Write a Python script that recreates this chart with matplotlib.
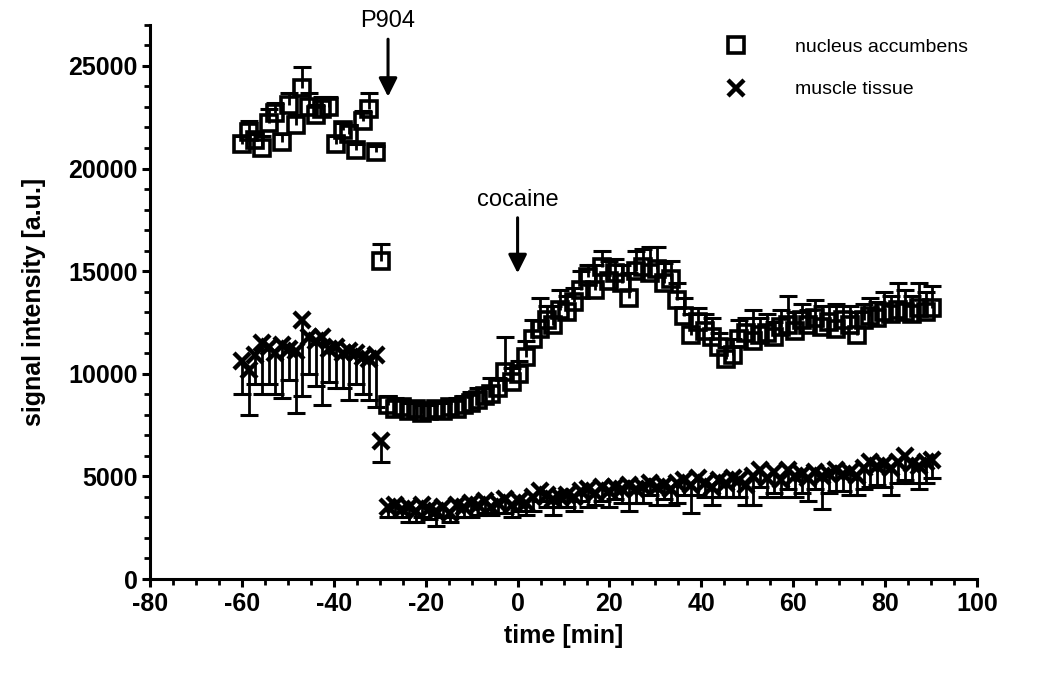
import numpy as np
import matplotlib
matplotlib.use("Agg")
import matplotlib.pyplot as plt
from matplotlib.ticker import MultipleLocator
from matplotlib.lines import Line2D

plt.rcParams['font.family'] = ['Liberation Sans', 'DejaVu Sans']
plt.rcParams['axes.unicode_minus'] = False

# ---------------- data ----------------
# baseline period (before P904), injection point, and period after P904
time_pre = np.linspace(-60, -30.8, 21)
time_inj = [-29.7]
time_post = np.arange(-28.2, 90.5, 1.5)

na_pre = [21200, 21800, 21400, 21000, 22200, 22700, 21300, 23100, 22100, 23900,
          23000, 22600, 22900, 23000, 21200, 21900, 21700, 20900, 22300, 22900, 20800]
na_pre_err = [400, 500, 300, 600, 700, 500, 400, 600, 500, 1050,
              700, 500, 600, 500, 400, 300, 400, 300, 500, 800, 300]
na_inj = [15500]
na_inj_err = [800]
na_post = [8500, 8300, 8400, 8200, 8300, 8100, 8200, 8300, 8200, 8400,
           8300, 8500, 8600, 8700, 8900, 9000, 9300, 10100, 9600, 10000,
           10800, 11700, 12200, 12600, 12400, 13100, 13000, 13500, 14100, 14700,
           14100, 15200, 14500, 14900, 14400, 13700, 15000, 15200, 14900, 15100,
           14400, 14600, 13600, 12800, 11900, 12500, 12100, 11800, 11300, 10700,
           10900, 11700, 12000, 11600, 11900, 12000, 11800, 12300, 12400, 12100,
           12600, 12400, 12700, 12300, 12500, 12200, 12600, 12400, 11900, 12600,
           12800, 12700, 13000, 12900, 13100, 13000, 12900, 13200, 13000, 13200]
na_post_err = [400, 500, 300, 400, 300, 400, 300, 300, 400, 300,
               500, 400, 500, 600, 400, 800, 500, 1700, 700, 600,
               800, 900, 1500, 700, 900, 1000, 800, 700, 900, 600,
               1200, 800, 1000, 700, 900, 1200, 1000, 900, 1300, 1100,
               1000, 900, 800, 900, 1000, 700, 800, 900, 700, 600,
               800, 900, 700, 1500, 800, 900, 700, 800, 1400, 900,
               800, 700, 900, 1000, 800, 1200, 700, 900, 1100, 800,
               900, 800, 1000, 900, 1300, 1100, 900, 1200, 1000, 1100]

mt_pre = [10600, 10200, 10900, 11500, 11300, 11000, 11400, 11200, 11100, 12600,
          11800, 11600, 11800, 11200, 11300, 11000, 11100, 11000, 10800, 10700, 10900]
mt_pre_err = [1600, 2200, 1400, 2500, 1800, 2000, 2600, 1500, 3000, 3700,
              1800, 2200, 3300, 1600, 2000, 1700, 2400, 1500, 1800, 2000, 2500]
mt_inj = [6700]
mt_inj_err = [1000]
mt_post = [3500, 3600, 3400, 3500, 3300, 3600, 3400, 3300, 3500, 3200,
           3600, 3500, 3700, 3600, 3800, 3500, 3700, 3900, 3600, 3800,
           3700, 4000, 4300, 4100, 3900, 4000, 4100, 4000, 4300, 4400,
           4200, 4500, 4300, 4500, 4400, 4600, 4400, 4500, 4700, 4500,
           4600, 4400, 4700, 4800, 4600, 4900, 4700, 4500, 4800, 4700,
           4900, 4800, 4600, 5000, 5300, 4900, 5200, 4800, 5300, 5000,
           5100, 4900, 5200, 5000, 5100, 5300, 5100, 5200, 5000, 5400,
           5700, 5500, 5600, 5400, 5700, 6000, 5600, 5500, 5700, 5800]
mt_post_err = [500, 600, 400, 700, 500, 600, 500, 700, 500, 400,
               600, 500, 700, 500, 600, 400, 500, 700, 600, 500,
               600, 700, 500, 600, 800, 500, 600, 700, 500, 900,
               600, 700, 800, 600, 700, 1300, 700, 800, 600, 900,
               700, 800, 1000, 700, 1400, 800, 700, 900, 800, 700,
               900, 800, 1000, 1400, 800, 900, 1000, 800, 900, 1000,
               900, 1100, 800, 1600, 900, 1000, 800, 1100, 900, 1000,
               1200, 900, 1100, 1300, 1000, 1200, 900, 1100, 1000, 900]

time = np.concatenate([time_pre, time_inj, time_post])
na = np.concatenate([na_pre, na_inj, na_post])
na_err = np.concatenate([na_pre_err, na_inj_err, na_post_err])
mt = np.concatenate([mt_pre, mt_inj, mt_post])
mt_err = np.concatenate([mt_pre_err, mt_inj_err, mt_post_err])

labels = ["nucleus accumbens", "muscle tissue"]
events = ["P904", "cocaine"]
event_time = [-28.2, 0]
event_top = [26300, 17600]
event_tip = [23500, 14900]

# ---------------- figure ----------------
fig = plt.figure(figsize=(10.5, 6.75), dpi=100)
ax = fig.add_axes([0.1429, 0.1422, 0.7876, 0.821])

cap_ms = 13  # cap width (points)

# muscle tissue: lower error bars only
mt_low = mt - mt_err
ax.vlines(time, mt_low, mt, color='black', lw=2, zorder=2)
ax.plot(time, mt_low, linestyle='none', marker='_', ms=cap_ms, mew=2.2,
        color='black', zorder=2)
ax.plot(time, mt, linestyle='none', marker='x', ms=11, mew=3.2,
        color='black', zorder=3)

# nucleus accumbens: upper error bars only
na_high = na + na_err
ax.vlines(time, na, na_high, color='black', lw=2, zorder=2)
ax.plot(time, na_high, linestyle='none', marker='_', ms=cap_ms, mew=2.2,
        color='black', zorder=2)
ax.plot(time, na, linestyle='none', marker='s', ms=11, mew=2.6,
        mfc='none', mec='black', zorder=4)

ax.set_xlim(-80, 100)
ax.set_ylim(0, 27000)
ax.xaxis.set_major_locator(MultipleLocator(20))
ax.xaxis.set_minor_locator(MultipleLocator(5))
ax.yaxis.set_major_locator(MultipleLocator(5000))
ax.yaxis.set_minor_locator(MultipleLocator(1000))

for s in ['top', 'right']:
    ax.spines[s].set_visible(False)
for s in ['left', 'bottom']:
    ax.spines[s].set_linewidth(2.2)

ax.tick_params(which='major', direction='out', length=6, width=2.2,
               labelsize=18, pad=3)
ax.tick_params(which='minor', direction='out', length=4, width=2)
for lab in ax.get_xticklabels() + ax.get_yticklabels():
    lab.set_fontweight('bold')

ax.set_xlabel("time [min]", fontsize=18, fontweight='bold', labelpad=6)
ax.set_ylabel("signal intensity [a.u.]", fontsize=18, fontweight='bold', labelpad=16)

for name, t, top, tip in zip(events, event_time, event_top, event_tip):
    ax.annotate("", xy=(t, tip), xytext=(t, top),
                arrowprops=dict(arrowstyle='-|>', color='black', lw=2.2,
                                mutation_scale=28, shrinkA=0, shrinkB=0),
                annotation_clip=False)
    ax.text(t, top + 350, name, ha='center', va='bottom', fontsize=17,
            clip_on=False)

handles = [Line2D([], [], linestyle='none', marker='s', ms=11, mew=2.6,
                  mfc='none', mec='black'),
           Line2D([], [], linestyle='none', marker='x', ms=11, mew=3.2,
                  color='black')]
ax.legend(handles, labels, loc='upper right', bbox_to_anchor=(1.01, 1.008),
          frameon=False, fontsize=14, handlelength=1.0, handletextpad=2.5,
          labelspacing=1.3)

fig.savefig("out.png", dpi=100)
